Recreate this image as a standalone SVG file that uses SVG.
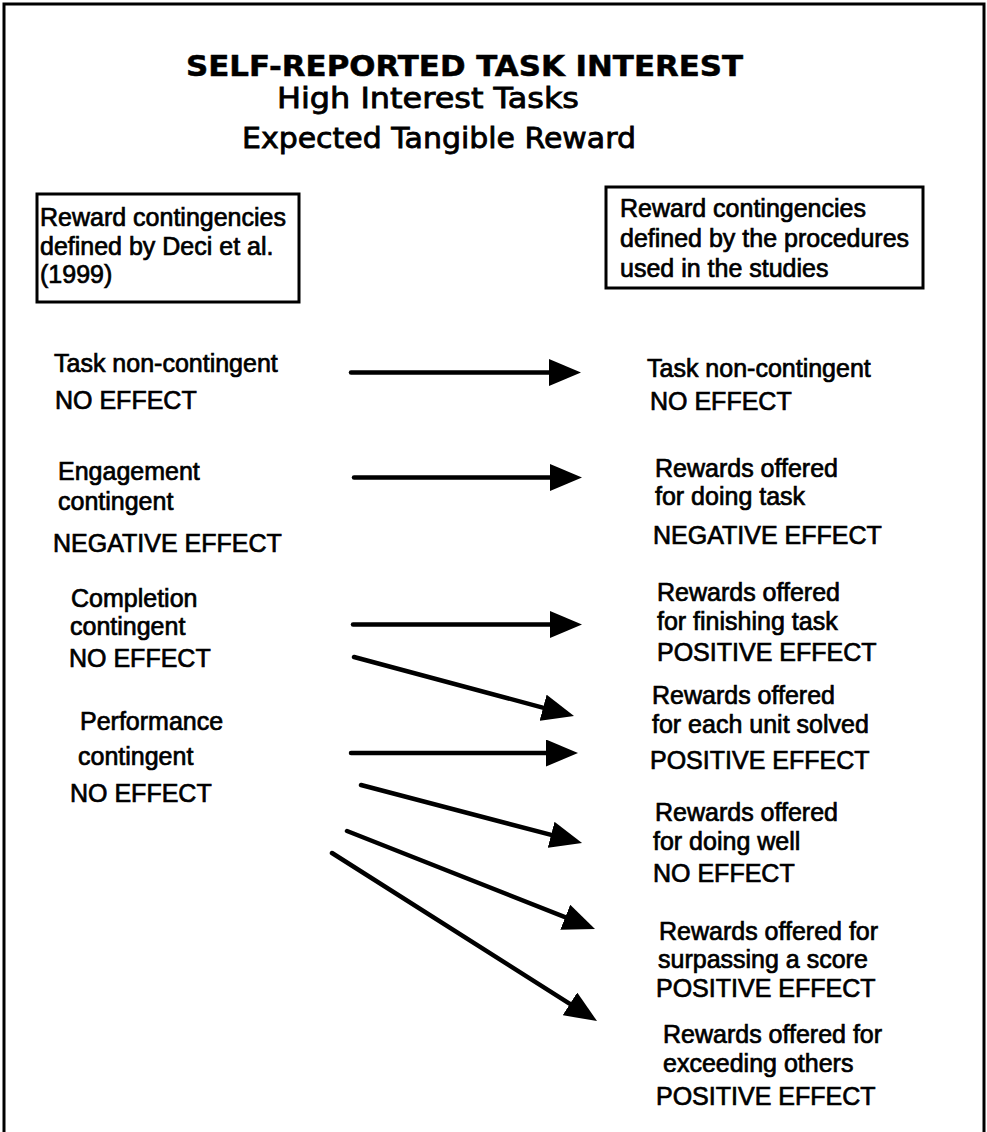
<svg xmlns="http://www.w3.org/2000/svg" width="987" height="1132" viewBox="0 0 987 1132">
  <style>
    .frame { fill: none; stroke: #000; stroke-width: 3; }
    .box { fill: #fff; stroke: #000; stroke-width: 3; }
    .title { font-family: "DejaVu Sans", Verdana, sans-serif; font-weight: bold; font-size: 28px; fill: #000; stroke: #000; stroke-width: 0.5; }
    .sub { font-family: "DejaVu Sans", Verdana, sans-serif; font-size: 28px; fill: #000; stroke: #000; stroke-width: 0.8; }
    .lbl { font-family: "Liberation Sans", Arial, sans-serif; font-size: 25px; fill: #000; stroke: #000; stroke-width: 0.7; }
    .boxt { font-family: "Liberation Sans", Arial, sans-serif; font-size: 25px; fill: #000; stroke: #000; stroke-width: 0.7; }
    .conn line { stroke: #000; stroke-width: 4.5; stroke-linecap: round; marker-end: url(#head); }
  </style>
  <defs>
    <marker id="head" markerUnits="userSpaceOnUse" markerWidth="32" markerHeight="27" refX="12" refY="13.5" orient="auto" viewBox="0 0 32 27">
      <path d="M0,0 L32,13.5 L0,27 Z" fill="#000"/>
    </marker>
  </defs>
  <rect width="987" height="1132" fill="#fff"/>
  <rect class="frame" x="4" y="4" width="980" height="1140"/>

  <g id="title">
    <text class="title" x="186" y="76" textLength="557" lengthAdjust="spacingAndGlyphs">SELF-REPORTED TASK INTEREST</text>
    <text class="sub" x="277" y="108" textLength="302" lengthAdjust="spacingAndGlyphs">High Interest Tasks</text>
    <text class="sub" x="242" y="148" textLength="394" lengthAdjust="spacingAndGlyphs">Expected Tangible Reward</text>
  </g>

  <g id="box-deci">
    <rect class="box" x="37" y="194" width="262" height="108"/>
    <text class="boxt" x="40" y="226">Reward contingencies</text>
    <text class="boxt" x="40" y="255">defined by Deci et al.</text>
    <text class="boxt" x="40" y="283">(1999)</text>
  </g>

  <g id="box-procedures">
    <rect class="box" x="606" y="187" width="317" height="101"/>
    <text class="boxt" x="620" y="217">Reward contingencies</text>
    <text class="boxt" x="620" y="247">defined by the procedures</text>
    <text class="boxt" x="620" y="277">used in the studies</text>
  </g>

  <g id="left-task-noncontingent">
    <text class="lbl" x="54" y="372">Task non-contingent</text>
    <text class="lbl" x="55" y="409">NO EFFECT</text>
  </g>
  <g id="left-engagement">
    <text class="lbl" x="58" y="480">Engagement</text>
    <text class="lbl" x="58" y="510">contingent</text>
    <text class="lbl" x="53" y="552">NEGATIVE EFFECT</text>
  </g>
  <g id="left-completion">
    <text class="lbl" x="71" y="607">Completion</text>
    <text class="lbl" x="70" y="635">contingent</text>
    <text class="lbl" x="69" y="667">NO EFFECT</text>
  </g>
  <g id="left-performance">
    <text class="lbl" x="80" y="730">Performance</text>
    <text class="lbl" x="78" y="765">contingent</text>
    <text class="lbl" x="70" y="802">NO EFFECT</text>
  </g>

  <g id="right-task-noncontingent">
    <text class="lbl" x="647" y="377">Task non-contingent</text>
    <text class="lbl" x="650" y="410">NO EFFECT</text>
  </g>
  <g id="right-doing-task">
    <text class="lbl" x="655" y="477">Rewards offered</text>
    <text class="lbl" x="655" y="505">for doing task</text>
    <text class="lbl" x="653" y="544">NEGATIVE EFFECT</text>
  </g>
  <g id="right-finishing-task">
    <text class="lbl" x="657" y="601">Rewards offered</text>
    <text class="lbl" x="657" y="630">for finishing task</text>
    <text class="lbl" x="657" y="661">POSITIVE EFFECT</text>
  </g>
  <g id="right-each-unit">
    <text class="lbl" x="652" y="704">Rewards offered</text>
    <text class="lbl" x="652" y="733">for each unit solved</text>
    <text class="lbl" x="650" y="769">POSITIVE EFFECT</text>
  </g>
  <g id="right-doing-well">
    <text class="lbl" x="655" y="821">Rewards offered</text>
    <text class="lbl" x="653" y="850">for doing well</text>
    <text class="lbl" x="653" y="882">NO EFFECT</text>
  </g>
  <g id="right-surpassing">
    <text class="lbl" x="659" y="940">Rewards offered for</text>
    <text class="lbl" x="658" y="968">surpassing a score</text>
    <text class="lbl" x="656" y="997">POSITIVE EFFECT</text>
  </g>
  <g id="right-exceeding">
    <text class="lbl" x="663" y="1043">Rewards offered for</text>
    <text class="lbl" x="663" y="1072">exceeding others</text>
    <text class="lbl" x="656" y="1105">POSITIVE EFFECT</text>
  </g>

  <g id="connectors" class="conn">
    <line x1="351" y1="372.5" x2="561" y2="372.5"/>
    <line x1="354" y1="477.5" x2="562" y2="477.5"/>
    <line x1="353" y1="624.5" x2="562" y2="624.5"/>
    <line x1="354" y1="657" x2="554.7" y2="710.8"/>
    <line x1="351" y1="753" x2="558" y2="753"/>
    <line x1="361" y1="785" x2="562.7" y2="837.9"/>
    <line x1="347" y1="831" x2="576.4" y2="921.7"/>
    <line x1="332" y1="853" x2="580.1" y2="1010.3"/>
  </g>
</svg>
